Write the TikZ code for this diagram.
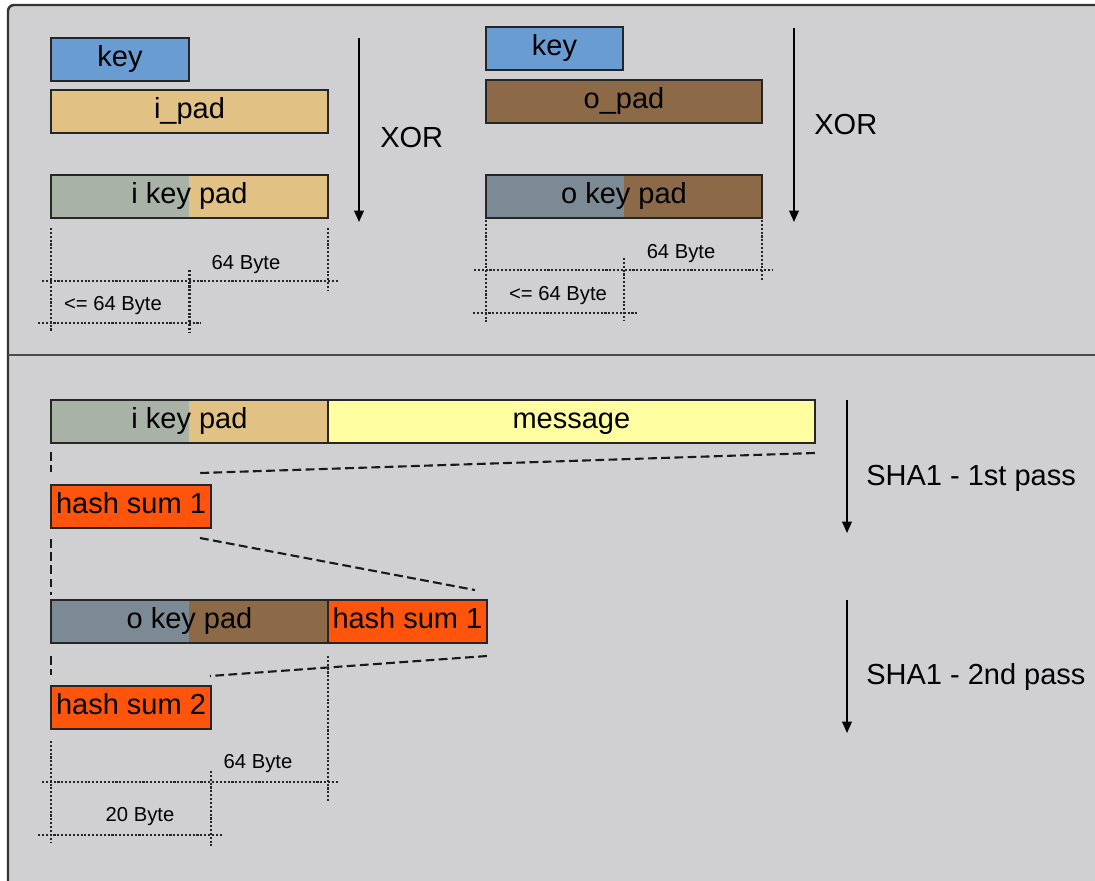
\documentclass[tikz,border=0pt]{standalone}
\usepackage{fontspec}
\setmainfont{Liberation Sans}
\usetikzlibrary{positioning,arrows.meta,calc}
\definecolor{panelgray}{RGB}{208,208,210}
\definecolor{keyblue}{RGB}{104,156,210}
\definecolor{ipadtan}{RGB}{226,194,132}
\definecolor{ikeygreen}{RGB}{168,178,166}
\definecolor{opadbrown}{RGB}{140,106,72}
\definecolor{okeyslate}{RGB}{124,138,150}
\definecolor{msgyellow}{RGB}{255,255,162}
\definecolor{hashorange}{RGB}{255,84,12}

\begin{document}
\begin{tikzpicture}[x=0.02cm, y=-0.02cm,
      blk/.style={rectangle, draw=black!85, line width=1pt, inner sep=0pt,
                  outer sep=0pt, minimum height=0.86cm, anchor=north west,
                  text height=12pt, text depth=3.5pt,
                  font=\fontsize{16.5}{19}\selectfont},
      split/.style 2 args={fill=#2, path picture={
                  \fill[#1] (path picture bounding box.south west)
                        rectangle (path picture bounding box.north);}},
      dim/.style={line width=1.3pt, dash pattern=on 1.2pt off 1pt, black!85},
      cut/.style={line width=1.2pt, dash pattern=on 5pt off 2.5pt, black!90},
      flow/.style={-{Triangle[length=6.5pt,width=5.5pt]}, line width=0.9pt},
      note/.style={inner sep=0pt, font=\fontsize{11.5}{13}\selectfont},
      lbl/.style={anchor=west, inner sep=0pt, font=\fontsize{16.5}{19}\selectfont}]
      \path[use as bounding box] (0,0) rectangle (1095,880);
      % panel
      \fill[panelgray] (14,5) -- (1110,5) -- (1110,895) -- (8,895) -- (8,11)
            arc[start angle=180, end angle=270, radius=6] -- cycle;
      \draw[black!80, line width=1.4pt] (8,895) -- (8,11)
            arc[start angle=180, end angle=270, radius=6] -- (1110,5);
      \draw[black!70, line width=1.4pt] (8,355) -- (1110,355);

      % inner key pad
      \node[blk, fill=keyblue, minimum width=2.76cm] (keyA) at (51,38) {key};
      \node[blk, fill=ipadtan, minimum width=5.54cm] (ipad) at (51,90) {i\_pad};
      \node[blk, split={ikeygreen}{ipadtan}, minimum width=5.54cm] (ikey) at (51,175) {i key pad};
      \coordinate (xorAtop) at (359,38);
      \coordinate (xorAbot) at (359,222);
      \draw[flow] (xorAtop) -- (xorAbot);
      \node[lbl] (xorA) at (380,138) {XOR};
      \draw[dim] ($(ikey.south west)+(0,10)$) -- ++(0,104);
      \draw[dim] ($(ikey.south east)+(0,10)$) -- ++(0,62);
      \draw[dim] ($(ikey.south west)+(-9,63)$) -- ($(ikey.south east)+(10,63)$);
      \draw[dim] ($(ikey.south)+(0,52)$) -- ++(0,62);
      \draw[dim] ($(ikey.south west)+(-13,105)$) -- ($(ikey.south)+(11,105)$);
      \node[note] (ikeyfull) at (246,265) {64 Byte};
      \node[note] (ikeyleft) at (113,306) {<= 64 Byte};

      % outer key pad
      \node[blk, fill=keyblue, minimum width=2.74cm] (keyB) at (486,27) {key};
      \node[blk, fill=opadbrown, minimum width=5.52cm] (opad) at (486,80) {o\_pad};
      \node[blk, split={okeyslate}{opadbrown}, minimum width=5.52cm] (okey) at (486,175) {o key pad};
      \coordinate (xorBtop) at (794,28);
      \coordinate (xorBbot) at (794,222);
      \draw[flow] (xorBtop) -- (xorBbot);
      \node[lbl] (xorB) at (814,125) {XOR};
      \draw[dim] ($(okey.south west)+(0,2)$) -- ++(0,102);
      \draw[dim] ($(okey.south east)+(0,2)$) -- ++(0,60);
      \draw[dim] ($(okey.south west)+(-12,52)$) -- ($(okey.south east)+(10,52)$);
      \draw[dim] ($(okey.south)+(0,40)$) -- ++(0,62);
      \draw[dim] ($(okey.south west)+(-13,95)$) -- ($(okey.south)+(13,95)$);
      \node[note] (okeyfull) at (681,254) {64 Byte};
      \node[note] (okeyleft) at (558,296) {<= 64 Byte};

      % hashing
      \node[blk, split={ikeygreen}{ipadtan}, minimum width=5.54cm] (ikeyB) at (51,400) {i key pad};
      \node[blk, fill=msgyellow, minimum width=9.74cm, right=0pt of ikeyB] (msg) {message};
      \node[blk, fill=hashorange, minimum width=3.2cm] (hsA) at (51,485) {hash sum 1};
      \node[blk, split={okeyslate}{opadbrown}, minimum width=5.54cm] (okeyB) at (51,600) {o key pad};
      \node[blk, fill=hashorange, minimum width=3.18cm, right=0pt of okeyB] (hsB) {hash sum 1};
      \node[blk, fill=hashorange, minimum width=3.2cm] (hsC) at (51,686) {hash sum 2};

      \draw[cut] ($(ikeyB.south west)+(0,9)$) -- ($(hsA.north west)+(0,-13)$);
      \draw[cut] ($(msg.south east)+(0,10)$) -- ($(hsA.north east)+(-11,-12)$);
      \draw[cut] ($(hsA.south west)+(0,11)$) -- ($(okeyB.north west)+(0,-5)$);
      \draw[cut] ($(hsA.south east)+(-11,10)$) -- ($(hsB.north east)+(-12,-10)$);
      \draw[cut] ($(okeyB.south west)+(0,13)$) -- ($(hsC.north west)+(0,-11)$);
      \draw[cut] ($(hsB.south east)+(0,13)$) -- ($(hsC.north east)+(-1,-10)$);

      \draw[dim] ($(hsC.south west)+(0,12)$) -- ++(0,102);
      \draw[dim] ($(okeyB.south east)+(0,13)$) -- ++(0,145);
      \draw[dim] ($(hsC.south west)+(-9,53)$) -- ++(296,0);
      \draw[dim] ($(hsC.south east)+(0,42)$) -- ++(0,75);
      \draw[dim] ($(hsC.south west)+(-13,106)$) -- ++(184,0);
      \node[note] (okeyBfull) at (258,764) {64 Byte};
      \node[note] (hsCwidth) at (140,817) {20 Byte};

      \coordinate (shaAtop) at (847,400);
      \coordinate (shaAbot) at (847,533);
      \draw[flow] (shaAtop) -- (shaAbot);
      \node[lbl] (shaA) at (866,478) {SHA1 - 1st pass};
      \coordinate (shaBtop) at (847,600);
      \coordinate (shaBbot) at (847,733);
      \draw[flow] (shaBtop) -- (shaBbot);
      \node[lbl] (shaB) at (866,677) {SHA1 - 2nd pass};
    \end{tikzpicture}
\end{document}
